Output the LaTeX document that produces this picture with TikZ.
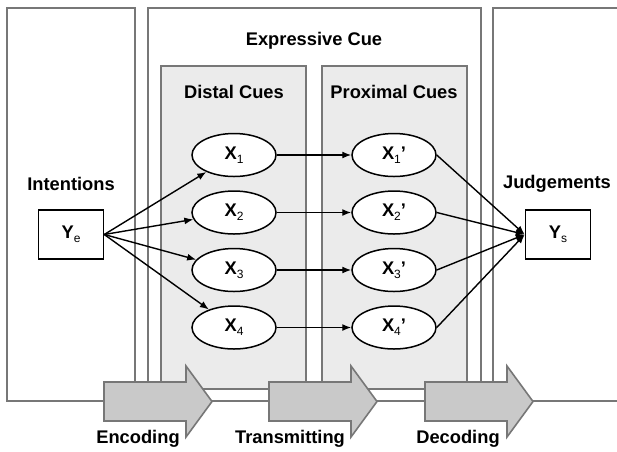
\documentclass[tikz,border=0pt]{standalone}
\usepackage{fontspec}
\setmainfont{Liberation Sans}
\usetikzlibrary{shapes.geometric,arrows.meta}
\definecolor{frame}{HTML}{777777}
\definecolor{cuefill}{HTML}{EBEBEB}
\definecolor{bigarrow}{HTML}{C9C9C9}
\newcommand\sbx[1]{\raisebox{-0.22em}{\fontsize{12}{12}\selectfont\mdseries #1}}
\begin{document}
\begin{tikzpicture}[x=1pt,y=-1pt,
  every node/.style={font=\fontsize{18.3}{21}\selectfont\bfseries},
  outerbox/.style={draw=frame,line width=1.6pt},
  cuebox/.style={draw=frame,fill=cuefill,line width=1.6pt},
  flowarrow/.style={draw=frame,fill=bigarrow,line width=1.6pt,line join=miter},
  cue/.style={ellipse,draw=black,fill=white,line width=1.5pt,minimum width=84pt,minimum height=43pt,inner sep=0pt},
  endbox/.style={rectangle,draw=black,fill=white,line width=1.5pt,minimum width=65pt,minimum height=49pt,inner sep=0pt},
  link/.style={-{Latex[length=9pt,width=7pt]},line width=1.4pt,black}]
\useasboundingbox (0,0) rectangle (617,451);
\fill[white] (0,0) rectangle (617,451);
% outer boxes
\draw[outerbox] (7,8) rectangle (135,401);
\draw[outerbox] (148,8) rectangle (481,401);
\draw[outerbox] (620,8) -- (493,8) -- (493,401) -- (620,401);
\draw[outerbox] (135,401) -- (148,401) (481,401) -- (493,401);
% cue boxes
\draw[cuebox] (161,66) rectangle (306,389);
\draw[cuebox] (322,66) rectangle (467,389);
% flow arrows
\foreach \s in {104,269,425}{
  \draw[flowarrow] (\s,382) -- (\s+82,382) -- (\s+82,366) -- (\s+108,401.5) -- (\s+82,437) -- (\s+82,421) -- (\s,421) -- cycle;
}
% titles
\node (expr) at (314,41) {Expressive Cue};
\node (dist) at (234,92) {Distal Cues};
\node (prox) at (394,92) {Proximal Cues};
\node (intent) at (71,184) {Intentions};
\node (judge) at (557,184) {Judgements};
\node (enc) at (138,439) {Encoding};
\node (trans) at (290,439) {Transmitting};
\node (dec) at (458,439) {Decoding};
% nodes
\node[endbox] (ye) at (71,234.5) {Y\sbx{e}};
\node[endbox] (ys) at (558,234.5) {Y\sbx{s}};
\node[cue] (x1) at (234,155) {X\sbx{1}};
\node[cue] (x2) at (234,212.5) {X\sbx{2}};
\node[cue] (x3) at (234,270) {X\sbx{3}};
\node[cue] (x4) at (234,327.5) {X\sbx{4}};
\node[cue] (p1) at (394,155) {X\sbx{1}’};
\node[cue] (p2) at (394,212.5) {X\sbx{2}’};
\node[cue] (p3) at (394,270) {X\sbx{3}’};
\node[cue] (p4) at (394,327.5) {X\sbx{4}’};
% connectors
\foreach \i in {1,2,3,4}{
  \draw[link] (ye.east) -- (x\i);
  \draw[link] (x\i.east) -- (p\i.west);
  \draw[link] (p\i.east) -- (ys.west);
}
\end{tikzpicture}
\end{document}
